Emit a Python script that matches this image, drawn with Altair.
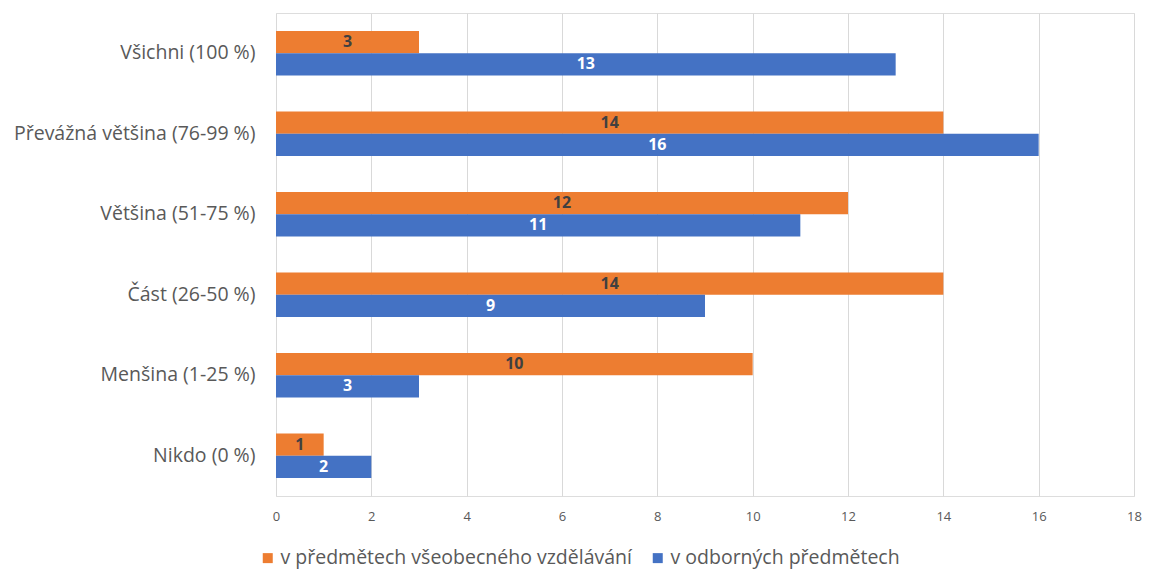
import altair as alt
import pandas as pd

categories = ["Všichni (100 %)", "Převážná většina (76-99 %)", "Většina (51-75 %)",
              "Část (26-50 %)", "Menšina (1-25 %)", "Nikdo (0 %)"]
series_names = ["v předmětech všeobecného vzdělávání", "v odborných předmětech"]
general_vals = [3, 14, 12, 14, 10, 1]
vocational_vals = [13, 16, 11, 9, 3, 2]
x_ticks = [0, 2, 4, 6, 8, 10, 12, 14, 16, 18]

rows = []
for c, g, v in zip(categories, general_vals, vocational_vals):
    rows.append({"cat": c, "series": series_names[0], "value": g})
    rows.append({"cat": c, "series": series_names[1], "value": v})
df = pd.DataFrame(rows)

FONT = "Open Sans"
GREY = "#595959"

y_enc = alt.Y("cat:N", sort=categories, title=None,
              scale=alt.Scale(paddingInner=0.45, paddingOuter=0.225),
              axis=alt.Axis(labelFontSize=19.5, labelColor=GREY, labelFont=FONT,
                            ticks=False, domain=False, labelPadding=21, labelLimit=0,
                            minExtent=262, maxExtent=262))
yoff = alt.YOffset("series:N", sort=series_names,
                   scale=alt.Scale(paddingInner=0.0, paddingOuter=0.0))

base = alt.Chart(df)

bars = base.mark_bar().encode(
    x=alt.X("value:Q", title=None,
            scale=alt.Scale(domain=[0, 18], nice=False),
            axis=alt.Axis(values=x_ticks, labelFontSize=13, labelColor=GREY,
                          labelFont=FONT, ticks=False, domain=False, labelFlush=False,
                          grid=True, gridColor="#d9d9d9", labelPadding=14)),
    y=y_enc,
    yOffset=yoff,
    color=alt.Color("series:N", sort=series_names,
                    scale=alt.Scale(domain=series_names, range=["#ED7D31", "#4472C4"]),
                    legend=alt.Legend(title=None, orient="none", direction="horizontal",
                                      legendX=-18, legendY=535,
                                      labelFontSize=19.5, labelColor=GREY, labelFont=FONT,
                                      symbolType="square", symbolSize=100, labelOffset=3,
                                      columnPadding=16, labelLimit=500)),
)

labels = base.transform_calculate(mid="datum.value / 2").mark_text(
    font=FONT, fontSize=16, fontWeight="bold", baseline="middle", align="center"
).encode(
    x="mid:Q",
    y=alt.Y("cat:N", sort=categories),
    yOffset=yoff,
    text="value:Q",
    color=alt.condition(alt.datum.series == series_names[1],
                        alt.value("white"), alt.value("#404040")),
)

chart = alt.layer(bars, labels).properties(width=858, height=483).configure_view(
    stroke=None
).configure(background="white")

chart.save("out.html", embed_options={"renderer": "svg", "actions": False})
